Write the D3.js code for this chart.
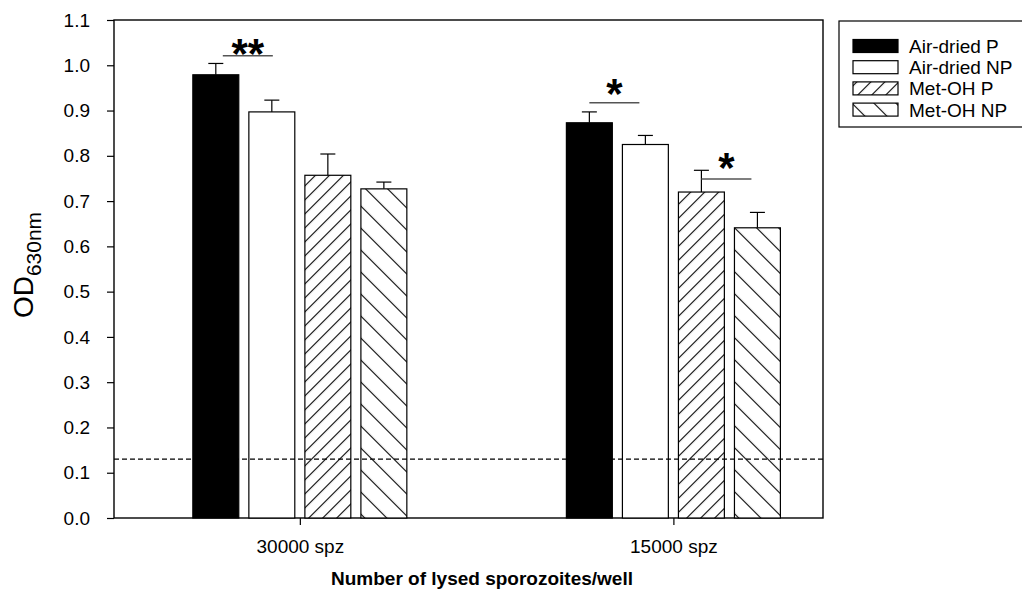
<!DOCTYPE html>
<meta charset="utf-8">
<style>
body { margin: 0; background: #fff; }
svg { font-family: "Liberation Sans", Arial, Helvetica, sans-serif; }
.tick text { font-size: 19px; fill: #000; }
</style>
<svg id="chart" width="1022" height="589"></svg>
<script src="https://cdnjs.cloudflare.com/ajax/libs/d3/7.8.5/d3.min.js"></script>
<script>
// data
var groups = ["30000 spz", "15000 spz"];
var series = ["Air-dried P", "Air-dried NP", "Met-OH P", "Met-OH NP"];
var means = [[0.979, 0.897, 0.757, 0.727],
             [0.873, 0.825, 0.720, 0.641]];
var errors = [[0.025, 0.026, 0.047, 0.015],
              [0.024, 0.020, 0.048, 0.034]];
var yTicks = [0, 0.1, 0.2, 0.3, 0.4, 0.5, 0.6, 0.7, 0.8, 0.9, 1.0, 1.1];
var cutoff = 0.13;
// significance marks: group, from series, to series, line height, star height, label
var sigGroup = [0, 1, 1];
var sigFrom = [0, 0, 2];
var sigTo = [1, 1, 3];
var sigLevel = [1.021, 0.917, 0.749];
var sigStar = [1.046, 0.959, 0.794];
var sigLabel = ["**", "*", "*"];

var svg = d3.select("#chart");
var pLeft = 114, pRight = 823, pTop = 20, pBottom = 518;

var y = d3.scaleLinear().domain([0, 1.1]).range([pBottom, pTop]);
var x = d3.scalePoint().domain(groups).range([pLeft, pRight]).padding(0.449).align(0.554);
var xs = d3.scaleBand().domain(series).range([-107, 107]).paddingInner(0.18).paddingOuter(0);

// hatch patterns
var defs = svg.append("defs");
function hatch(id, gap, angle) {
  var p = defs.append("pattern").attr("id", id)
    .attr("patternUnits", "userSpaceOnUse")
    .attr("width", gap).attr("height", gap)
    .attr("patternTransform", "rotate(" + angle + ")");
  p.append("rect").attr("width", gap).attr("height", gap).attr("fill", "#fff");
  p.append("line").attr("x1", 0.5).attr("x2", 0.5).attr("y1", 0).attr("y2", gap)
    .attr("stroke", "#000").attr("stroke-width", 1.2);
}
hatch("fwd", 14 / Math.SQRT2, 45);
hatch("back", 22 / Math.SQRT2, -45);
var fills = ["#000", "#fff", "url(#fwd)", "url(#back)"];

// frame
svg.append("rect").attr("x", pLeft).attr("y", pTop)
  .attr("width", pRight - pLeft).attr("height", pBottom - pTop)
  .attr("fill", "none").attr("stroke", "#000").attr("stroke-width", 1.4);

// bars
groups.forEach(function (g, gi) {
  var bg = svg.append("g");
  series.forEach(function (s, si) {
    var bx = x(g) + xs(s), v = means[gi][si], e = errors[gi][si];
    var cx = bx + xs.bandwidth() / 2;
    bg.append("line").attr("x1", cx).attr("x2", cx)
      .attr("y1", y(v)).attr("y2", y(v + e)).attr("stroke", "#000").attr("stroke-width", 1.2);
    bg.append("line").attr("x1", cx - 7.5).attr("x2", cx + 7.5)
      .attr("y1", y(v + e)).attr("y2", y(v + e)).attr("stroke", "#000").attr("stroke-width", 1.2);
    bg.append("rect").attr("x", bx).attr("y", y(v))
      .attr("width", xs.bandwidth()).attr("height", y(0) - y(v))
      .attr("fill", fills[si]).attr("stroke", "#000").attr("stroke-width", 1.2);
  });
});

// cutoff line
svg.append("line").attr("x1", pLeft).attr("x2", pRight)
  .attr("y1", y(cutoff)).attr("y2", y(cutoff))
  .attr("stroke", "#000").attr("stroke-width", 1.2).attr("stroke-dasharray", "5,3");

// axes
var yAxis = svg.append("g").attr("transform", "translate(" + pLeft + ",0)")
  .call(d3.axisLeft(y).tickValues(yTicks).tickFormat(d3.format(".1f")).tickSizeOuter(0).tickSize(7).tickPadding(17));
yAxis.select(".domain").remove();
var xAxis = svg.append("g").attr("transform", "translate(0," + pBottom + ")")
  .call(d3.axisBottom(x).tickSizeOuter(0).tickSize(7).tickPadding(15));
xAxis.select(".domain").remove();
svg.selectAll(".tick line").attr("stroke", "#000").attr("stroke-width", 1.2);

// significance
sigLabel.forEach(function (lab, i) {
  var g = groups[sigGroup[i]];
  var x1 = x(g) + xs(series[sigFrom[i]]) + xs.bandwidth() / 2;
  var x2 = x(g) + xs(series[sigTo[i]]) + xs.bandwidth() / 2 - 6;
  if (i === 0) { x1 += 7; x2 += 7; }
  svg.append("line").attr("x1", x1).attr("x2", x2)
    .attr("y1", y(sigLevel[i])).attr("y2", y(sigLevel[i]))
    .attr("stroke", "#555").attr("stroke-width", 1.5);
  svg.append("text").attr("x", (x1 + x2) / 2).attr("y", y(sigStar[i]) + 0.57 * 42)
    .attr("text-anchor", "middle").attr("font-size", 42).attr("font-weight", "bold")
    .text(lab);
});

// axis titles
var yt = svg.append("text").attr("transform", "translate(33,265) rotate(-90)")
  .attr("text-anchor", "middle").attr("font-size", 28);
yt.append("tspan").text("OD");
yt.append("tspan").attr("font-size", 21).attr("dy", 8).text("630nm");

svg.append("text").attr("x", 482).attr("y", 585).attr("text-anchor", "middle")
  .attr("font-size", 19).attr("font-weight", "bold")
  .text("Number of lysed sporozoites/well");

// legend
var lg = svg.append("g");
lg.append("rect").attr("x", 839).attr("y", 21).attr("width", 200).attr("height", 106)
  .attr("fill", "#fff").attr("stroke", "#000").attr("stroke-width", 1.2);
series.forEach(function (s, i) {
  var ry = 46 + i * 21.2;
  lg.append("rect").attr("x", 853).attr("y", ry - 6.5).attr("width", 45).attr("height", 13)
    .attr("fill", fills[i]).attr("stroke", "#000").attr("stroke-width", 1.2);
  lg.append("text").attr("x", 909).attr("y", ry + 7).attr("font-size", 19).text(s);
});
</script>
